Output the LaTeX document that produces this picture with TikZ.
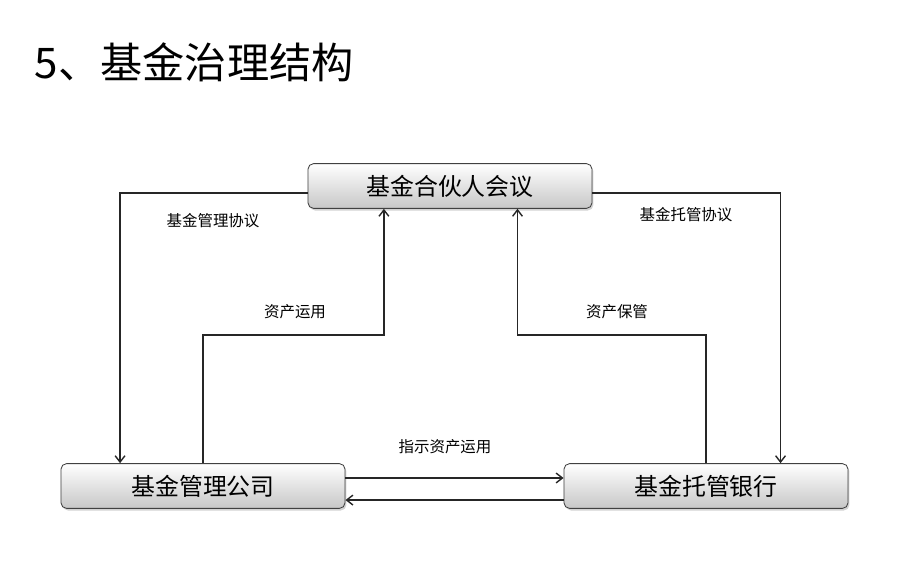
\documentclass[tikz,border=0pt]{standalone}
\usepackage{fontspec}
\newfontfamily\cjk{Noto Sans CJK SC}
\usetikzlibrary{shadows,arrows.meta}
\tikzset{
	jigou/.style={draw=black!75,line width=0.6pt,rounded corners=4pt,
		top color=white,bottom color=black!22,
		drop shadow={opacity=0.35,shadow xshift=1pt,shadow yshift=-1.5pt},
		minimum width=7.1cm,minimum height=1.12cm,font=\cjk\fontsize{17}{20}\selectfont},
	xieyi/.style={font=\cjk\fontsize{11}{13}\selectfont},
	lian/.style={draw=black!85,line width=1pt,-{Straight Barb[length=4.5pt,width=7pt]}}
}
\begin{document}
\begin{tikzpicture}[x=0.025cm,y=-0.025cm]
	\useasboundingbox (0,0) rectangle (911,577);
	\node[anchor=west,font=\cjk\fontsize{30}{34}\selectfont] (biaoti) at (30,62) {5、基金治理结构};
	% three boxes
	\node[jigou] (hhy) at (450,186) {基金合伙人会议};
	\node[jigou] (gl) at (203,486) {基金管理公司};
	\node[jigou] (tg) at (706,486) {基金托管银行};
	% agreements
	\draw[lian] ([yshift=-5pt]hhy.west) -| ([xshift=-59pt]gl.north);
	\draw[lian] ([yshift=-5pt]hhy.east) -| ([xshift=53pt]tg.north);
	\draw[lian] (gl.north) -- ++(0,-128) -| ([xshift=-47pt]hhy.south);
	\draw[lian] (tg.north) -- ++(0,-128) -| ([xshift=48pt]hhy.south);
	\draw[lian] ([yshift=5.7pt]gl.east) -- ([yshift=5.7pt]tg.west);
	\draw[lian] ([yshift=-10pt]tg.west) -- ([yshift=-10pt]gl.east);
	% labels
	\node[xieyi] (l1) at (213,221) {基金管理协议};
	\node[xieyi] (l2) at (686,215) {基金托管协议};
	\node[xieyi] (l3) at (295,312) {资产运用};
	\node[xieyi] (l4) at (617,312) {资产保管};
	\node[xieyi] (l5) at (445,447) {指示资产运用};
\end{tikzpicture}
\end{document}
